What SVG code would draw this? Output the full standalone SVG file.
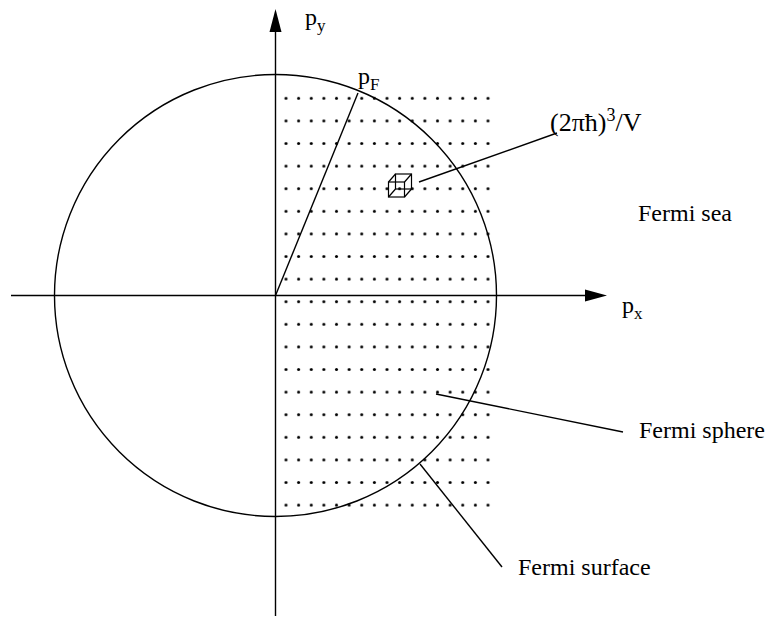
<svg xmlns="http://www.w3.org/2000/svg" width="773" height="617" viewBox="0 0 773 617">
<style>
.ln{stroke:#000;stroke-width:1.4;fill:none}
.t{font-family:"Liberation Serif","Times New Roman",serif;font-size:24px;fill:#000}
.s{font-size:17px}
</style>
<defs>
<pattern id="dots" patternUnits="userSpaceOnUse" x="279.69" y="87" width="12.625" height="22.6">
<circle cx="6.3125" cy="11.3" r="1.5" fill="#000"/>
</pattern>
</defs>
<rect width="773" height="617" fill="#fff"/>
<g id="dot-grid">
<rect x="279.69" y="87" width="214.625" height="429.4" fill="url(#dots)"/>
</g>
<g id="axes">
<line class="ln" x1="11" y1="295.5" x2="588" y2="295.5"/>
<polygon points="607,295.5 585,289.5 585,301.5" fill="#000"/>
<line class="ln" x1="275.5" y1="616" x2="275.5" y2="30"/>
<polygon points="275.5,9 269.5,32 281.5,32" fill="#000"/>
</g>
<g id="fermi-circle">
<circle class="ln" cx="275.5" cy="295.5" r="221"/>
</g>
<g id="cell-cube" class="ln">
<rect x="388.5" y="182" width="16" height="15" style="stroke-width:1.2"/>
<rect x="395.5" y="174" width="16" height="15" style="stroke-width:1.2"/>
<path d="M388.5 182 L395.5 174 M404.5 182 L411.5 174 M404.5 197 L411.5 189 M388.5 197 L395.5 189" style="stroke-width:1.2"/>
</g>
<g id="connectors">
<line class="ln" x1="275.5" y1="295.5" x2="358" y2="93"/>
<line class="ln" x1="419" y1="182" x2="557" y2="133"/>
<line class="ln" x1="436" y1="394" x2="623" y2="432"/>
<line class="ln" x1="420" y1="464" x2="502" y2="567"/>
</g>
<g id="label-py"><text class="t" x="305" y="25">p<tspan class="s" dy="6">y</tspan></text></g>
<g id="label-px"><text class="t" x="622" y="313">p<tspan class="s" dy="6">x</tspan></text></g>
<g id="label-pF"><text class="t" x="358" y="84">p<tspan class="s" dy="6">F</tspan></text></g>
<g id="label-cell"><text class="t" x="550" y="131" style="font-size:26px">(2πħ)<tspan class="s" dy="-10" style="font-size:18px">3</tspan><tspan dy="10">/V</tspan></text></g>
<g id="label-sea"><text class="t" x="638" y="221">Fermi sea</text></g>
<g id="label-sphere"><text class="t" x="639" y="438">Fermi sphere</text></g>
<g id="label-surface"><text class="t" x="518" y="575">Fermi surface</text></g>
</svg>
